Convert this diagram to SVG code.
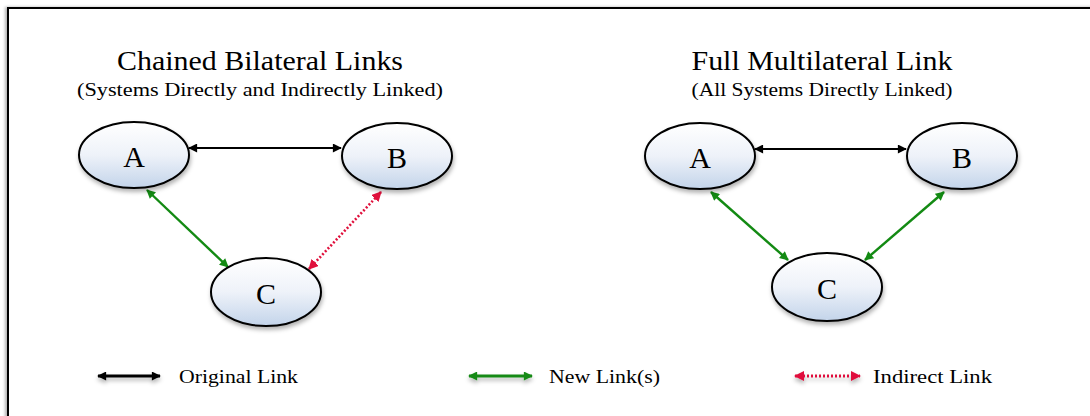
<svg xmlns="http://www.w3.org/2000/svg" width="1090" height="416" viewBox="0 0 1090 416">
<style>
  .title { font-family: "Liberation Serif", "DejaVu Serif", serif; font-size: 27px; fill: #000; text-anchor: middle; }
  .sub { font-family: "Liberation Serif", "DejaVu Serif", serif; font-size: 19px; fill: #000; text-anchor: middle; }
  .lbl { font-family: "Liberation Serif", "DejaVu Serif", serif; font-size: 30px; fill: #000; text-anchor: middle; }
  .leg { font-family: "Liberation Serif", "DejaVu Serif", serif; font-size: 18px; fill: #000; }
  .node { fill: url(#nodeGrad); stroke: #000; stroke-width: 2; filter: url(#shadow); }
  .blk { stroke: #000; stroke-width: 2.2; fill: none; marker-start: url(#arrBlk); marker-end: url(#arrBlk); }
  .grn { stroke: #138a13; stroke-width: 2.4; fill: none; marker-start: url(#arrGrn); marker-end: url(#arrGrn); }
  .red { stroke: #e0103c; stroke-width: 2.6; fill: none; stroke-dasharray: 2 2; marker-start: url(#arrRed); marker-end: url(#arrRed); }
  .thick { stroke-width: 3; }
</style>
<defs>
  <linearGradient id="nodeGrad" x1="0" y1="0" x2="0" y2="1">
    <stop offset="0" stop-color="#ffffff"/>
    <stop offset="0.5" stop-color="#eef2f9"/>
    <stop offset="1" stop-color="#c3d4ea"/>
  </linearGradient>
  <filter id="shadow" x="-20%" y="-20%" width="140%" height="150%">
    <feDropShadow dx="1" dy="3" stdDeviation="2" flood-color="#000" flood-opacity="0.3"/>
  </filter>
  <filter id="lshadow" filterUnits="userSpaceOnUse" x="0" y="350" width="1090" height="60">
    <feDropShadow dx="0" dy="3" stdDeviation="2" flood-color="#000" flood-opacity="0.3"/>
  </filter>
  <filter id="fshadow" x="-5%" y="-5%" width="110%" height="110%">
    <feDropShadow dx="-2" dy="0" stdDeviation="1.5" flood-color="#000" flood-opacity="0.3"/>
  </filter>
  <marker id="arrBlk" viewBox="0 0 10 10" refX="9" refY="5" markerWidth="10" markerHeight="9" markerUnits="userSpaceOnUse" orient="auto-start-reverse">
    <path d="M0,0 L10,5 L0,10 Z" fill="#000"/>
  </marker>
  <marker id="arrGrn" viewBox="0 0 10 10" refX="9" refY="5" markerWidth="10" markerHeight="9" markerUnits="userSpaceOnUse" orient="auto-start-reverse">
    <path d="M0,0 L10,5 L0,10 Z" fill="#138a13"/>
  </marker>
  <marker id="arrRed" viewBox="0 0 10 10" refX="9" refY="5" markerWidth="10" markerHeight="10" markerUnits="userSpaceOnUse" orient="auto-start-reverse">
    <path d="M0,0 L10,5 L0,10 Z" fill="#e0103c"/>
  </marker>
</defs>

<rect x="8" y="8" width="1200" height="500" fill="#fff" stroke="#000" stroke-width="2" filter="url(#fshadow)"/>

<g id="titles">
  <text class="title" x="260" y="70" textLength="286" lengthAdjust="spacingAndGlyphs">Chained Bilateral Links</text>
  <text class="sub" x="260" y="96" textLength="366" lengthAdjust="spacingAndGlyphs">(Systems Directly and Indirectly Linked)</text>
  <text class="title" x="822" y="70" textLength="261" lengthAdjust="spacingAndGlyphs">Full Multilateral Link</text>
  <text class="sub" x="822" y="96" textLength="261" lengthAdjust="spacingAndGlyphs">(All Systems Directly Linked)</text>
</g>

<g id="connectors">
  <line class="blk" x1="189" y1="148" x2="341" y2="148"/>
  <line class="grn" x1="147" y1="190" x2="228" y2="267"/>
  <line class="red" x1="381" y1="192" x2="309" y2="269"/>
  <line class="blk" x1="755" y1="149" x2="906" y2="149"/>
  <line class="grn" x1="711" y1="192" x2="788" y2="260"/>
  <line class="grn" x1="944" y1="192" x2="865" y2="260"/>
</g>

<g id="left-A">
  <ellipse class="node" cx="134" cy="155" rx="55" ry="33"/>
  <text class="lbl" x="134" y="167">A</text>
</g>
<g id="left-B">
  <ellipse class="node" cx="397" cy="156" rx="55" ry="33"/>
  <text class="lbl" x="397" y="168">B</text>
</g>
<g id="left-C">
  <ellipse class="node" cx="266" cy="292" rx="55" ry="34"/>
  <text class="lbl" x="266" y="304">C</text>
</g>
<g id="right-A">
  <ellipse class="node" cx="700" cy="156" rx="55" ry="33"/>
  <text class="lbl" x="700" y="168">A</text>
</g>
<g id="right-B">
  <ellipse class="node" cx="962" cy="156" rx="55" ry="33"/>
  <text class="lbl" x="962" y="168">B</text>
</g>
<g id="right-C">
  <ellipse class="node" cx="827" cy="287" rx="55" ry="34"/>
  <text class="lbl" x="827" y="299">C</text>
</g>

<g id="legend">
  <line class="blk thick" x1="98" y1="376" x2="160" y2="376" filter="url(#lshadow)"/>
  <text class="leg" x="179" y="383" textLength="119" lengthAdjust="spacingAndGlyphs">Original Link</text>
  <line class="grn thick" x1="469" y1="376" x2="532" y2="376" filter="url(#lshadow)"/>
  <text class="leg" x="549" y="383" textLength="111" lengthAdjust="spacingAndGlyphs">New Link(s)</text>
  <line class="red thick" x1="795" y1="376" x2="860" y2="376" filter="url(#lshadow)"/>
  <text class="leg" x="873" y="383" textLength="119" lengthAdjust="spacingAndGlyphs">Indirect Link</text>
</g>
</svg>
